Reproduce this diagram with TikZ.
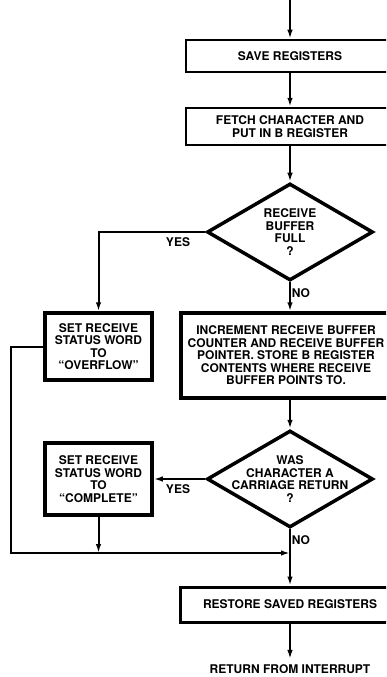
\documentclass[tikz,border=0pt]{standalone}
\usepackage{fontspec}
\setmainfont{TeX Gyre Heros}
\usetikzlibrary{shapes.geometric, arrows.meta, positioning, calc}

\begin{document}
\begin{tikzpicture}[x=1pt, y=-1pt]
  \tikzset{
    procbox/.style={draw=black, line width=2.5pt, rectangle, align=center, inner sep=0pt,
      font=\fontsize{12}{12.5}\selectfont\bfseries},
    heavybox/.style={procbox, line width=3.5pt},
    decision/.style={draw=black, line width=3.5pt, diamond, aspect=1.7, align=center,
      inner xsep=-30pt, inner ysep=0pt, minimum width=166pt, minimum height=97pt,
      font=\fontsize{12}{12.5}\selectfont\bfseries},
    flow/.style={-{Latex[length=9pt, width=5.5pt]}, line width=2pt},
    answer/.style={font=\fontsize{12}{12.5}\selectfont\bfseries}
  }

  % Page frame of the scan (right edge cuts the main boxes)
  \clip (0,0) rectangle (386,677);

  % Main column
  \coordinate (entry) at (290,0);
  \node[procbox, minimum width=208pt, minimum height=32pt] (save) at (290,56) {SAVE REGISTERS};
  \node[procbox, minimum width=208pt, minimum height=37pt] (fetch) at (290,126.5)
    {FETCH CHARACTER AND\\PUT IN B REGISTER};
  \node[decision] (full) at (290,232) {RECEIVE\\BUFFER\\FULL\\?};
  \node[heavybox, minimum width=210pt, minimum height=85pt] (incr) at (286,355.5)
    {INCREMENT RECEIVE BUFFER\\COUNTER AND RECEIVE BUFFER\\POINTER. STORE B REGISTER\\CONTENTS WHERE RECEIVE\\BUFFER POINTS TO.};
  \node[decision] (cr) at (290,479) {WAS\\CHARACTER A\\CARRIAGE RETURN\\?};
  \node[procbox, line width=3pt, minimum width=220pt, minimum height=35pt] (restore) at (290,604.5)
    {RESTORE SAVED REGISTERS};
  \node[answer] (ret) at (290,669) {RETURN FROM INTERRUPT};

  % Side column
  \node[heavybox, minimum width=107pt, minimum height=67pt] (over) at (98.5,346.5)
    {SET RECEIVE\\STATUS WORD\\TO\\``OVERFLOW''};
  \node[heavybox, minimum width=107pt, minimum height=72pt] (done) at (98.5,479)
    {SET RECEIVE\\STATUS WORD\\TO\\``COMPLETE''};

  % Branch labels
  \node[answer] (yesfull) at (178,242) {YES};
  \node[answer] (nofull) at (301,293) {NO};
  \node[answer] (yescr) at (178,489) {YES};
  \node[answer] (nocr) at (301,540) {NO};

  \coordinate (merge) at (290,553);

  % Connectors
  \draw[flow] (entry) -- (save);
  \draw[flow] (save) -- (fetch);
  \draw[flow] (fetch) -- (full);
  \draw[flow] (full.west) -| (over.north);
  \draw[flow] (full.south) -- (full.south |- incr.north);
  \draw[flow] (incr.south -| cr) -- (cr);
  \draw[flow] (cr.west) -- (done.east);
  \draw[flow] (over.west) -- ++(-32,0) |- (merge);
  \draw[flow] (done.south) -- (done.south |- merge);
  \draw[flow] (cr.south) -- (restore.north);
  \draw[flow, shorten >=2pt] (restore) -- (ret);
\end{tikzpicture}
\end{document}
